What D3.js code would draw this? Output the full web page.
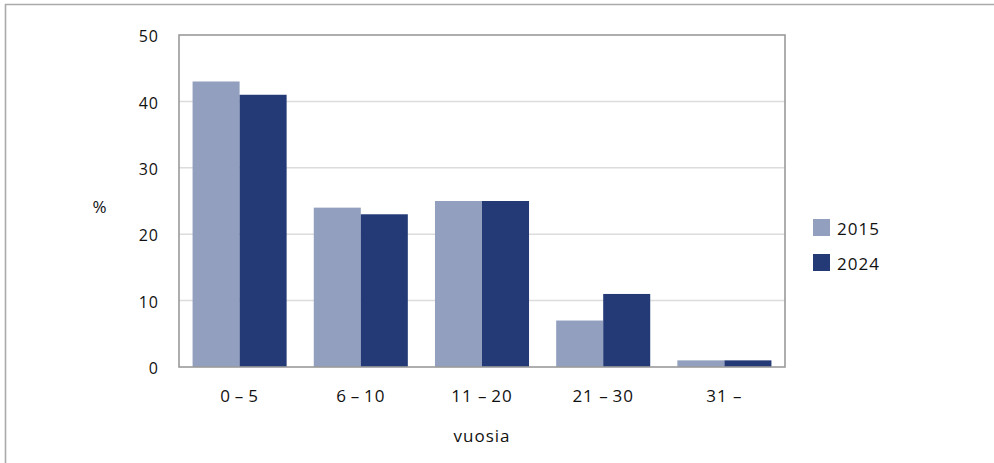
<!DOCTYPE html>
<html>
<head>
<meta charset="utf-8">
<script src="https://cdn.jsdelivr.net/npm/d3@7"></script>
<style>
  body { margin: 0; background: #fff; }
  text { font-family: "Open Sans", "Noto Sans", sans-serif; fill: #111; letter-spacing: 1px; }
</style>
</head>
<body>
<svg id="chart" width="994" height="463"></svg>
<script>
// data
const categories = ['0\u2009\u2013\u20095', '6\u2009\u2013\u200910', '11 \u2013\u200920', '21 \u2013\u200930', '31 \u2013'];
const seriesNames = ['2015', '2024'];
const values2015 = [43, 24, 25, 7, 1];
const values2024 = [41, 23, 25, 11, 1];
const yTicks = [0, 10, 20, 30, 40, 50];
const colors = ['#929fbe', '#233a77'];

const svg = d3.select('#chart');

// outer frame (only top and left visible)
svg.append('path')
    .attr('d', 'M5.5,463 L5.5,4.5 L994,4.5')
    .attr('fill', 'none')
    .attr('stroke', '#aaaaaa')
    .attr('stroke-width', 1.6);

const plotL = 179, plotR = 785, plotT = 35, plotB = 367;

const x = d3.scaleBand().domain(categories).range([plotL, plotR]).paddingInner(0.224).paddingOuter(0.112);
const xs = d3.scaleBand().domain(seriesNames).range([0, x.bandwidth()]);
const y = d3.scaleLinear().domain([0, 50]).range([plotB, plotT]);

// gridlines
svg.append('g')
  .selectAll('line')
  .data(yTicks.filter(d => d > 0 && d < 50))
  .enter().append('line')
    .attr('x1', plotL).attr('x2', plotR)
    .attr('y1', d => y(d)).attr('y2', d => y(d))
    .attr('stroke', '#dcdcdc')
    .attr('stroke-width', 1.5);

// bars
const rows = categories.map((c, i) => ({ cat: c, vals: [values2015[i], values2024[i]] }));
const groups = svg.append('g')
  .selectAll('g')
  .data(rows)
  .enter().append('g')
    .attr('transform', d => `translate(${x(d.cat)},0)`);

groups.selectAll('rect')
  .data(d => d.vals.map((v, j) => ({ s: seriesNames[j], v: v, j: j })))
  .enter().append('rect')
    .attr('x', d => xs(d.s))
    .attr('width', xs.bandwidth())
    .attr('y', d => y(d.v))
    .attr('height', d => y(0) - y(d.v))
    .attr('fill', d => colors[d.j]);

// plot frame
svg.append('rect')
    .attr('x', plotL).attr('y', plotT)
    .attr('width', plotR - plotL).attr('height', plotB - plotT)
    .attr('fill', 'none')
    .attr('stroke', '#9a9a9a')
    .attr('stroke-width', 1.6);

// y axis labels
const yAxis = d3.axisLeft(y).tickValues(yTicks).tickSize(0).tickPadding(20);
svg.append('g')
    .attr('transform', `translate(${plotL},0)`)
    .call(yAxis)
    .call(g => g.select('.domain').remove())
    .call(g => g.selectAll('text').style('font-size', '16px').attr('fill', '#111').attr('dy', '0.42em'));

// x axis labels
const xAxis = d3.axisBottom(x).tickSize(0).tickPadding(23);
svg.append('g')
    .attr('transform', `translate(0,${plotB})`)
    .call(xAxis)
    .call(g => g.select('.domain').remove())
    .call(g => g.selectAll('text').style('font-size', '17px').attr('fill', '#111'));

// axis titles
svg.append('text')
    .attr('x', 100).attr('y', 213)
    .attr('text-anchor', 'middle')
    .style('font-size', '17px')
    .text('%');

svg.append('text')
    .attr('x', 482).attr('y', 442)
    .attr('text-anchor', 'middle')
    .style('font-size', '17px')
    .text('vuosia');

// legend
const legend = svg.append('g').attr('transform', 'translate(813,219)');
seriesNames.forEach((name, i) => {
  legend.append('rect')
      .attr('x', 0).attr('y', i * 35)
      .attr('width', 17).attr('height', 17)
      .attr('fill', colors[i]);
  legend.append('text')
      .attr('x', 24).attr('y', i * 35 + 16)
      .style('font-size', '17px')
      .text(name);
});
</script>
</body>
</html>
